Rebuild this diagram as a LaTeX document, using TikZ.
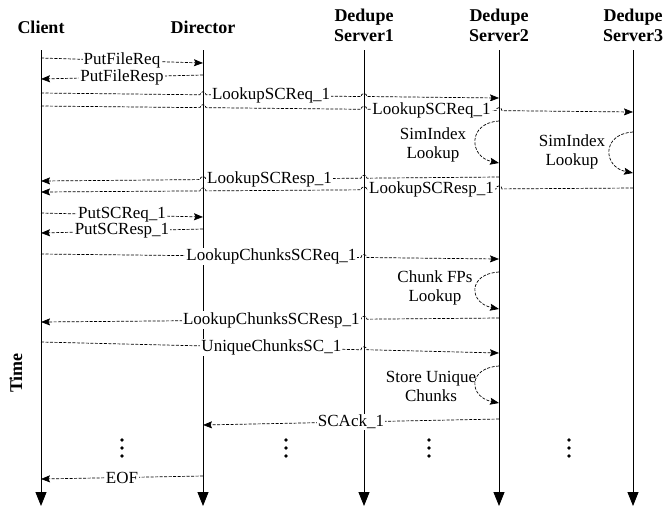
\documentclass[tikz,border=0pt]{standalone}
\usepackage{fontspec}
\setmainfont{Liberation Serif}
\usetikzlibrary{arrows.meta,calc}

\begin{document}
\begin{tikzpicture}[x=1pt,y=-1pt,
    life/.style={line width=0.85pt,-{Triangle[length=14pt,width=11pt]}},
    msg/.style={line width=0.7pt,dash pattern=on 3pt off 1.5pt,-{Stealth[length=9pt,width=7pt,inset=1.5pt]}},
    lbl/.style={fill=white,inner sep=1pt,font=\fontsize{17}{19}\selectfont},
    hdr/.style={align=center,font=\fontsize{18}{20}\selectfont\bfseries},
    note/.style={align=center,font=\fontsize{17}{19}\selectfont}]
    \useasboundingbox (0,0) rectangle (666,507);

    % headers
    \node[hdr] at (41,27)   (client)   {Client};
    \node[hdr] at (203,27)  (director) {Director};
    \node[hdr] at (364,25)  (ds1)      {Dedupe\\Server1};
    \node[hdr] at (499,25)  (ds2)      {Dedupe\\Server2};
    \node[hdr] at (633,25)  (ds3)      {Dedupe\\Server3};
    \node[hdr,rotate=90] at (16,373) (time) {Time};

    % lifelines
    \coordinate (client-top)   at (41,50);  \coordinate (client-end)   at (41,506);
    \coordinate (director-top) at (203,50); \coordinate (director-end) at (203,506);
    \coordinate (ds1-top)      at (364,50); \coordinate (ds1-end)      at (364,506);
    \coordinate (ds2-top)      at (499,50); \coordinate (ds2-end)      at (499,506);
    \coordinate (ds3-top)      at (633,50); \coordinate (ds3-end)      at (633,506);
    \draw[life] (client-top) -- (client-end);
    \draw[life] (director-top) -- (director-end);
    \draw[life] (ds1-top) -- (ds1-end);
    \draw[life] (ds2-top) -- (ds2-end);
    \draw[life] (ds3-top) -- (ds3-end);

    % PutFile
    \coordinate (pfq-c) at (41,58);  \coordinate (pfq-d) at (203,63);
    \draw[msg] (pfq-c) -- node[lbl] (pfq) {PutFileReq} (pfq-d);
    \coordinate (pfr-d) at (203,75); \coordinate (pfr-c) at (41,79);
    \draw[msg] (pfr-d) -- node[lbl] (pfr) {PutFileResp} (pfr-c);

    % LookupSCReq to server2 and server3
    \coordinate (lq2-c) at (41,93);  \coordinate (lq2-s) at (499,98);
    \coordinate (lq2-x1) at (intersection of lq2-c--lq2-s and director-top--director-end);
    \coordinate (lq2-x2) at (intersection of lq2-c--lq2-s and ds1-top--ds1-end);
    \draw[msg] (lq2-c) -- ($(lq2-x1)+(-3,0)$) arc[start angle=180,end angle=360,radius=3]
        -- node[lbl,pos=.42] (lq2) {LookupSCReq\_1} ($(lq2-x2)+(-3,0)$) arc[start angle=180,end angle=360,radius=3]
        -- (lq2-s);
    \coordinate (lq3-c) at (41,106); \coordinate (lq3-s) at (633,112);
    \coordinate (lq3-x1) at (intersection of lq3-c--lq3-s and director-top--director-end);
    \coordinate (lq3-x2) at (intersection of lq3-c--lq3-s and ds1-top--ds1-end);
    \coordinate (lq3-x3) at (intersection of lq3-c--lq3-s and ds2-top--ds2-end);
    \draw[msg] (lq3-c) -- ($(lq3-x1)+(-3,0)$) arc[start angle=180,end angle=360,radius=3]
        -- ($(lq3-x2)+(-3,0)$) arc[start angle=180,end angle=360,radius=3]
        -- node[lbl] (lq3) {LookupSCReq\_1} ($(lq3-x3)+(-3,0)$) arc[start angle=180,end angle=360,radius=3]
        -- (lq3-s);

    % SimIndex lookups
    \coordinate (si2-a) at (499,121); \coordinate (si2-b) at (499,163);
    \draw[msg] (si2-a) .. controls +(-32,2) and +(-30,-6) .. (si2-b);
    \node[note] at (433,145) (si2) {SimIndex\\Lookup};
    \coordinate (si3-a) at (633,132); \coordinate (si3-b) at (633,173);
    \draw[msg] (si3-a) .. controls +(-32,2) and +(-30,-6) .. (si3-b);
    \node[note] at (572,152) (si3) {SimIndex\\Lookup};

    % LookupSCResp back to client
    \coordinate (lr2-s) at (499,177); \coordinate (lr2-c) at (41,181);
    \coordinate (lr2-x1) at (intersection of lr2-s--lr2-c and ds1-top--ds1-end);
    \coordinate (lr2-x2) at (intersection of lr2-s--lr2-c and director-top--director-end);
    \draw[msg] (lr2-s) -- ($(lr2-x1)+(3,0)$) arc[start angle=0,end angle=-180,radius=3]
        -- node[lbl,pos=.59] (lr2) {LookupSCResp\_1} ($(lr2-x2)+(3,0)$) arc[start angle=0,end angle=-180,radius=3]
        -- (lr2-c);
    \coordinate (lr3-s) at (633,188); \coordinate (lr3-c) at (41,192);
    \coordinate (lr3-x1) at (intersection of lr3-s--lr3-c and ds2-top--ds2-end);
    \coordinate (lr3-x2) at (intersection of lr3-s--lr3-c and ds1-top--ds1-end);
    \coordinate (lr3-x3) at (intersection of lr3-s--lr3-c and director-top--director-end);
    \draw[msg] (lr3-s) -- ($(lr3-x1)+(3,0)$) arc[start angle=0,end angle=-180,radius=3]
        -- node[lbl] (lr3) {LookupSCResp\_1} ($(lr3-x2)+(3,0)$) arc[start angle=0,end angle=-180,radius=3]
        -- ($(lr3-x3)+(3,0)$) arc[start angle=0,end angle=-180,radius=3]
        -- (lr3-c);

    % PutSC
    \coordinate (psq-c) at (41,213);  \coordinate (psq-d) at (203,217);
    \draw[msg] (psq-c) -- node[lbl] (psq) {PutSCReq\_1} (psq-d);
    \coordinate (psr-d) at (203,229); \coordinate (psr-c) at (41,233);
    \draw[msg] (psr-d) -- node[lbl] (psr) {PutSCResp\_1} (psr-c);

    % LookupChunksSC
    \coordinate (lcq-c) at (41,254); \coordinate (lcq-s) at (499,259);
    \coordinate (lcq-x) at (intersection of lcq-c--lcq-s and ds1-top--ds1-end);
    \draw[msg] (lcq-c) -- node[lbl,pos=.72] (lcq) {LookupChunksSCReq\_1} ($(lcq-x)+(-3,0)$)
        arc[start angle=180,end angle=360,radius=3] -- (lcq-s);
    \coordinate (cf-a) at (499,272); \coordinate (cf-b) at (499,309);
    \draw[msg] (cf-a) .. controls +(-32,2) and +(-30,-6) .. (cf-b);
    \node[note] at (435,288) (cf) {Chunk FPs\\Lookup};
    \coordinate (lcr-s) at (499,318); \coordinate (lcr-c) at (41,322);
    \coordinate (lcr-x) at (intersection of lcr-s--lcr-c and ds1-top--ds1-end);
    \draw[msg] (lcr-s) -- ($(lcr-x)+(3,0)$) arc[start angle=0,end angle=-180,radius=3]
        -- node[lbl,pos=.28] (lcr) {LookupChunksSCResp\_1} (lcr-c);

    % UniqueChunksSC
    \coordinate (uc-c) at (41,342); \coordinate (uc-s) at (499,353);
    \coordinate (uc-x) at (intersection of uc-c--uc-s and ds1-top--ds1-end);
    \draw[msg] (uc-c) -- node[lbl,pos=.72] (uc) {UniqueChunksSC\_1} ($(uc-x)+(-3,0)$)
        arc[start angle=180,end angle=360,radius=3] -- (uc-s);
    \coordinate (su-a) at (499,366); \coordinate (su-b) at (499,403);
    \draw[msg] (su-a) .. controls +(-32,2) and +(-30,-6) .. (su-b);
    \node[note] at (431,386) (su) {Store Unique\\Chunks};

    % SCAck and EOF
    \coordinate (ack-s) at (499,419); \coordinate (ack-d) at (203,425);
    \draw[msg] (ack-s) -- node[lbl] (ack) {SCAck\_1} (ack-d);
    \coordinate (eof-d) at (203,476); \coordinate (eof-c) at (41,479);
    \draw[msg] (eof-d) -- node[lbl] (eof) {EOF} (eof-c);

    % dots
    \foreach \x in {122,286,429,569}
        \foreach \y in {440,448,456}
            \fill (\x,\y) circle[radius=1.8];
\end{tikzpicture}
\end{document}
